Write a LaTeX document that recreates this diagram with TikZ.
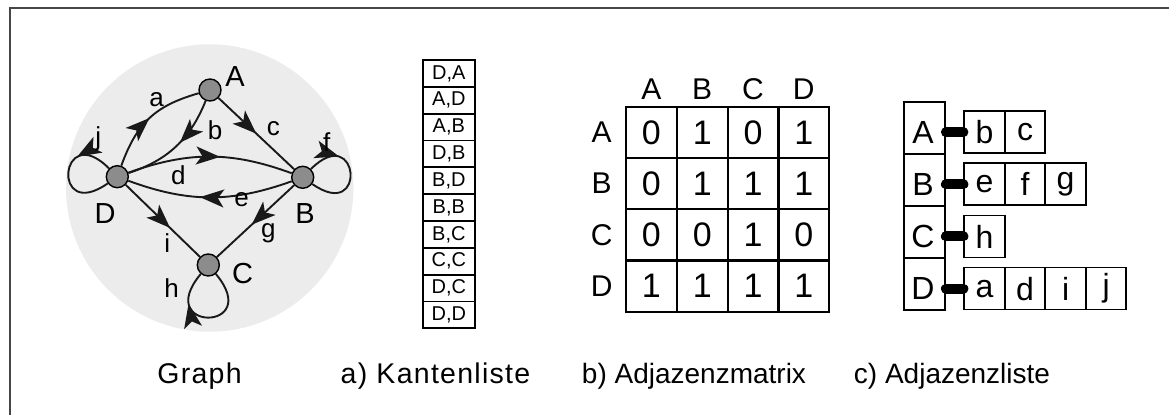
\documentclass[tikz,border=0pt]{standalone}
\usepackage{fontspec}
\setmainfont{Liberation Sans}
\usetikzlibrary{arrows.meta,decorations.markings}
\definecolor{disc}{RGB}{236,236,236}
\definecolor{vertexfill}{RGB}{140,140,140}
\definecolor{framegray}{RGB}{70,70,70}
\begin{document}
\begin{tikzpicture}[x=1pt,y=1pt,
  vertex/.style={circle,draw=black,line width=1.4pt,fill=vertexfill,minimum size=22pt,inner sep=0pt},
  vlabel/.style={font=\fontsize{29pt}{29pt}\selectfont,inner sep=0pt},
  elabel/.style={font=\fontsize{26pt}{26pt}\selectfont,inner sep=0pt},
  edge/.style={line width=1.9pt,draw=black!90},
  tipat/.style={postaction={decorate},decoration={markings,
      mark=at position #1 with {\arrow{Stealth[length=24pt,width=18pt,inset=6pt]}}}},
  kcell/.style={draw,line width=1.8pt,minimum width=52.3pt,minimum height=26.83pt,inner sep=0pt,
      font=\fontsize{20pt}{20pt}\selectfont},
  mcell/.style={draw,line width=2.2pt,minimum width=50.8pt,minimum height=51.25pt,inner sep=0pt,
      font=\fontsize{34pt}{34pt}\selectfont},
  mhead/.style={inner sep=0pt,font=\fontsize{30pt}{30pt}\selectfont},
  colbox/.style={draw,line width=1.8pt,minimum width=41pt,minimum height=52.1pt,inner sep=0pt},
  lcell/.style={draw,line width=1.8pt,minimum width=40.5pt,minimum height=42pt,inner sep=0pt,
      font=\fontsize{32pt}{32pt}\selectfont},
  ltext/.style={inner sep=0pt,font=\fontsize{32pt}{32pt}\selectfont},
  ptr/.style={line width=10pt,line cap=round},
  caption/.style={anchor=base,inner sep=0pt,font=\fontsize{28pt}{28pt}\selectfont},
  widecaption/.style={caption,font=\fontsize{28.5pt}{28.5pt}\selectfont\addfontfeatures{LetterSpace=4.5}}
]
\useasboundingbox (0,0) rectangle (1169,415);

% frame along the top and left sides
\draw[framegray,line width=2pt] (9.5,0) -- (9.5,406.5) -- (1169,406.5);

% ---------- graph ----------
\fill[disc] (209.7,227) circle (143.7);
\node[vertex] (A) at (210,325) {};
\node[vertex] (D) at (117.3,238.3) {};
\node[vertex] (B) at (302.7,237.7) {};
\node[vertex] (C) at (208.3,150) {};

\draw[edge,tipat=0.5] (D) to[out=70,in=196,looseness=1.1] (A);   % a
\draw[edge,tipat=0.45] (A) to[bend left=25] (D);                  % b
\draw[edge,tipat=0.5] (A) -- (B);                                 % c
\draw[edge,tipat=0.56] (D) to[bend left=20] (B);                  % d
\draw[edge,tipat=0.56] (B) to[bend left=20] (D);                  % e
\draw[edge,tipat=0.3] (B) to[out=45,in=-35,distance=68pt] (B);    % f
\draw[edge,tipat=0.33] (D) to[out=135,in=215,distance=70pt] (D);  % j
\draw[edge,tipat=0.55] (B) -- (C);                                % g
\draw[edge,tipat=0.6] (D) -- (C);                                 % i
\draw[edge,tipat=0.72] (C) to[out=-50,in=-130,distance=76pt] (C); % h

\node[vlabel] (tA) at (235,338.3) {A};
\node[vlabel] (tD) at (105,201.7) {D};
\node[vlabel] (tB) at (305,201.7) {B};
\node[vlabel] (tC) at (242.7,141.7) {C};

\node[elabel] (ea) at (156.7,315) {a};
\node[elabel] (eb) at (215,285) {b};
\node[elabel] (ec) at (273.3,286.7) {c};
\node[elabel] (ef) at (326.7,273.3) {f};
\node[elabel] (ej) at (98.3,276.7) {j};
\node[elabel] (ed) at (178.3,240) {d};
\node[elabel] (ee) at (241.7,215) {e};
\node[elabel] (eg) at (268.3,181.7) {g};
\node[elabel] (ei) at (167.3,171.7) {i};
\node[elabel] (eh) at (171.7,126.7) {h};

% ---------- a) edge list ----------
\foreach \e [count=\i] in {{D,A},{A,D},{A,B},{D,B},{B,D},{B,B},{B,C},{C,C},{D,C},{D,D}}
  \node[kcell] (k\i) at (448.85,{355-26.83*(\i-0.5)}) {\e};

% ---------- b) adjacency matrix ----------
\foreach \h [count=\c] in {A,B,C,D} {
  \node[mhead] (mc\c) at ({626+50.8*(\c-0.5)},325.7) {\h};
  \node[mhead] (mr\c) at (601.7,{308.3-51.25*(\c-0.5)}) {\h};
}
\foreach \row [count=\r] in {{0,1,0,1},{0,1,1,1},{0,0,1,0},{1,1,1,1}}
  \foreach \v [count=\c] in \row
    \node[mcell] (m\r\c) at ({626+50.8*(\c-0.5)},{308.3-51.25*(\r-0.5)}) {\v};

% ---------- c) adjacency list ----------
\foreach \h [count=\r] in {A,B,C,D}
  \node[colbox] (v\r) at (924.5,{313.3-52.1*(\r-0.5)}) {};

\node[ltext] (vtA) at (923,282.7) {A};
\node[ltext] (vtB) at (923,230.6) {B};
\node[ltext] (vtC) at (923,178.5) {C};
\node[ltext] (vtD) at (923,126.4) {D};

\foreach \s [count=\i] in {b,c}
  \node[lcell] (lA\i) at ({964.3+40.5*(\i-0.5)},282.7) {\s};
\foreach \s [count=\i] in {e,f,g}
  \node[lcell] (lB\i) at ({964.3+40.5*(\i-0.5)},230.6) {\s};
\foreach \s [count=\i] in {h}
  \node[lcell] (lC\i) at ({964.3+40.5*(\i-0.5)},178.5) {\s};
\foreach \s [count=\i] in {a,d,i,j}
  \node[lcell] (lD\i) at ({964.3+40.5*(\i-0.5)},126.4) {\s};

\draw[ptr] (lA1.west -| v1.east) -- (lA1.west);
\draw[ptr] (lB1.west -| v2.east) -- (lB1.west);
\draw[ptr] (lC1.west -| v3.east) -- (lC1.west);
\draw[ptr] (lD1.west -| v4.east) -- (lD1.west);

% ---------- captions ----------
\node[widecaption] (capG) at (199.5,31.7) {Graph};
\node[widecaption] (capK) at (435.5,31.7) {a) Kantenliste};
\node[caption] (capM) at (694,31.7) {b) Adjazenzmatrix};
\node[caption] (capL) at (952,31.7) {c) Adjazenzliste};
\end{tikzpicture}
\end{document}
